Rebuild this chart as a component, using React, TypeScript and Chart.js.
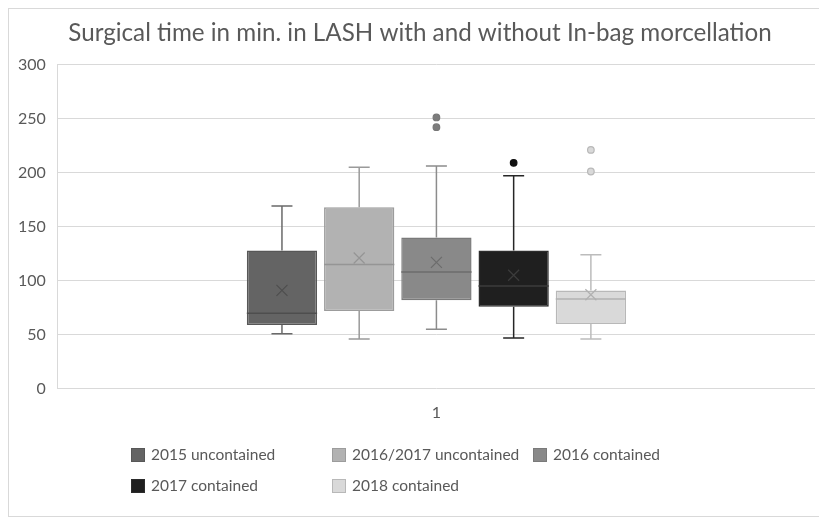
import React, { useEffect, useRef } from "react";
import { Chart, registerables } from "chart.js";

Chart.register(...registerables);

const titleText = "Surgical time in min. in LASH with and without In-bag morcellation";
const categories = ["1"];
const seriesNames = [
  "2015 uncontained",
  "2016/2017 uncontained",
  "2016 contained",
  "2017 contained",
  "2018 contained",
];
const minValues = [51, 46, 55, 47, 46];
const q1Values = [59, 72, 82, 76, 60];
const medianValues = [70, 115, 108, 95, 83];
const q3Values = [128, 168, 140, 128, 91];
const maxValues = [169, 205, 206, 197, 124];
const meanValues = [91, 121, 117, 105, 87];
const outlierValues: number[][] = [[], [], [251, 242], [209], [221, 201]];
const yTickMin = 0;
const yTickMax = 300;
const yTickStep = 50;

const fillColors = ["#646464", "#b2b2b2", "#898989", "#1f1f1f", "#d9d9d9"];
const borderColors = ["#575757", "#9c9c9c", "#7a7a7a", "#2c2c2c", "#b8b8b8"];
const whiskerColors = ["#6a6a6a", "#9a9a9a", "#8c8c8c", "#262626", "#bcbcbc"];
const medianColors = ["#4e4e4e", "#959595", "#6c6c6c", "#3c3c3c", "#b0b0b0"];
const outlierFill = ["#646464", "#b2b2b2", "#7c7c7c", "#111111", "#d9d9d9"];
const outlierStroke = ["#575757", "#9c9c9c", "#777777", "#111111", "#b8b8b8"];

const FONT = "Lato, 'Open Sans', sans-serif";
const TEXT = "#595959";

const boxPlugin = {
  id: "boxExtras",
  afterDatasetsDraw(chart: any) {
    const ctx = chart.ctx;
    const y = chart.scales.y;
    chart.data.datasets.forEach((_ds: any, i: number) => {
      const meta = chart.getDatasetMeta(i);
      const bar: any = meta.data[0];
      if (!bar) return;
      const x = bar.x;
      const w = bar.width;
      const yq1 = y.getPixelForValue(q1Values[i]);
      const yq3 = y.getPixelForValue(q3Values[i]);
      const ymin = y.getPixelForValue(minValues[i]);
      const ymax = y.getPixelForValue(maxValues[i]);
      const ymed = y.getPixelForValue(medianValues[i]);
      const ymean = y.getPixelForValue(meanValues[i]);
      const cap = 10.5;
      ctx.save();
      ctx.strokeStyle = whiskerColors[i];
      ctx.lineWidth = 1.5;
      ctx.beginPath();
      ctx.moveTo(x, yq3);
      ctx.lineTo(x, ymax);
      ctx.moveTo(x - cap, ymax);
      ctx.lineTo(x + cap, ymax);
      ctx.moveTo(x, yq1);
      ctx.lineTo(x, ymin);
      ctx.moveTo(x - cap, ymin);
      ctx.lineTo(x + cap, ymin);
      ctx.stroke();
      // median
      ctx.strokeStyle = medianColors[i];
      ctx.beginPath();
      ctx.moveTo(x - w / 2, ymed);
      ctx.lineTo(x + w / 2, ymed);
      ctx.stroke();
      // mean cross
      const m = 5.5;
      ctx.lineWidth = 1.2;
      ctx.beginPath();
      ctx.moveTo(x - m, ymean - m);
      ctx.lineTo(x + m, ymean + m);
      ctx.moveTo(x + m, ymean - m);
      ctx.lineTo(x - m, ymean + m);
      ctx.stroke();
      // outliers
      outlierValues[i].forEach((v) => {
        const py = y.getPixelForValue(v);
        ctx.beginPath();
        ctx.arc(x, py, 3.3, 0, Math.PI * 2);
        ctx.fillStyle = outlierFill[i];
        ctx.fill();
        ctx.strokeStyle = outlierStroke[i];
        ctx.lineWidth = 1.2;
        ctx.stroke();
      });
      ctx.restore();
    });
  },
};

const framePlugin = {
  id: "frame",
  beforeDraw(chart: any) {
    const ctx = chart.ctx;
    ctx.save();
    ctx.fillStyle = "#ffffff";
    ctx.fillRect(0, 0, chart.width, chart.height);
    ctx.strokeStyle = "#d9d9d9";
    ctx.lineWidth = 1;
    ctx.strokeRect(8.5, 8.5, chart.width + 10, chart.height - 10);
    // chart title
    ctx.fillStyle = TEXT;
    ctx.font = `24.2px ${FONT}`;
    ctx.textAlign = "center";
    ctx.textBaseline = "middle";
    ctx.fillText(titleText, 420, 33);
    ctx.restore();
  },
};

const legendCols = [131, 332, 533];
const legendRows = [455, 486];

const legendPlugin = {
  id: "gridLegend",
  afterDraw(chart: any) {
    const ctx = chart.ctx;
    ctx.save();
    ctx.font = `15.5px ${FONT}`;
    ctx.textBaseline = "middle";
    ctx.textAlign = "left";
    chart.data.datasets.forEach((ds: any, i: number) => {
      const col = i % 3;
      const row = Math.floor(i / 3);
      const x = legendCols[col];
      const yy = legendRows[row];
      ctx.fillStyle = ds.backgroundColor;
      ctx.fillRect(x, yy - 7, 14, 14);
      ctx.strokeStyle = ds.borderColor;
      ctx.lineWidth = 1;
      ctx.strokeRect(x + 0.5, yy - 6.5, 13, 13);
      ctx.fillStyle = TEXT;
      ctx.fillText(ds.label, x + 20, yy);
    });
    ctx.restore();
  },
};

export default function App() {
  const ref = useRef<HTMLCanvasElement>(null);
  useEffect(() => {
    if (!ref.current) return;
    const chart = new Chart(ref.current, {
      type: "bar",
      data: {
        labels: categories,
        datasets: seriesNames.map((name, i) => ({
          label: name,
          data: [[q1Values[i], q3Values[i]]] as any,
          backgroundColor: fillColors[i],
          borderColor: borderColors[i],
          borderWidth: 1.5,
          borderSkipped: false,
          categoryPercentage: 0.51,
          barPercentage: 0.91,
        })),
      },
      options: {
        animation: false,
        responsive: false,
        layout: { padding: { left: 6, right: 4, top: 64.5, bottom: 90 } },
        plugins: {
          legend: { display: false },
          tooltip: { enabled: false },
          title: { display: false },
        },
        scales: {
          x: {
            grid: { display: false },
            border: { display: false },
            ticks: { color: TEXT, font: { family: FONT, size: 16 }, padding: 6 },
          },
          y: {
            min: yTickMin,
            max: yTickMax,
            ticks: {
              stepSize: yTickStep,
              color: TEXT,
              font: { family: FONT, size: 16 },
              padding: 12,
            },
            grid: { color: "#d9d9d9", drawTicks: false },
            border: { display: true, color: "#d9d9d9" },
          },
        },
      },
      plugins: [framePlugin, boxPlugin, legendPlugin],
    });
    return () => chart.destroy();
  }, []);
  return (
    <div style={{ position: "absolute", left: 0, top: 0, width: 819, height: 518 }}>
      <canvas ref={ref} width={819} height={518} style={{ display: "block" }} />
    </div>
  );
}
